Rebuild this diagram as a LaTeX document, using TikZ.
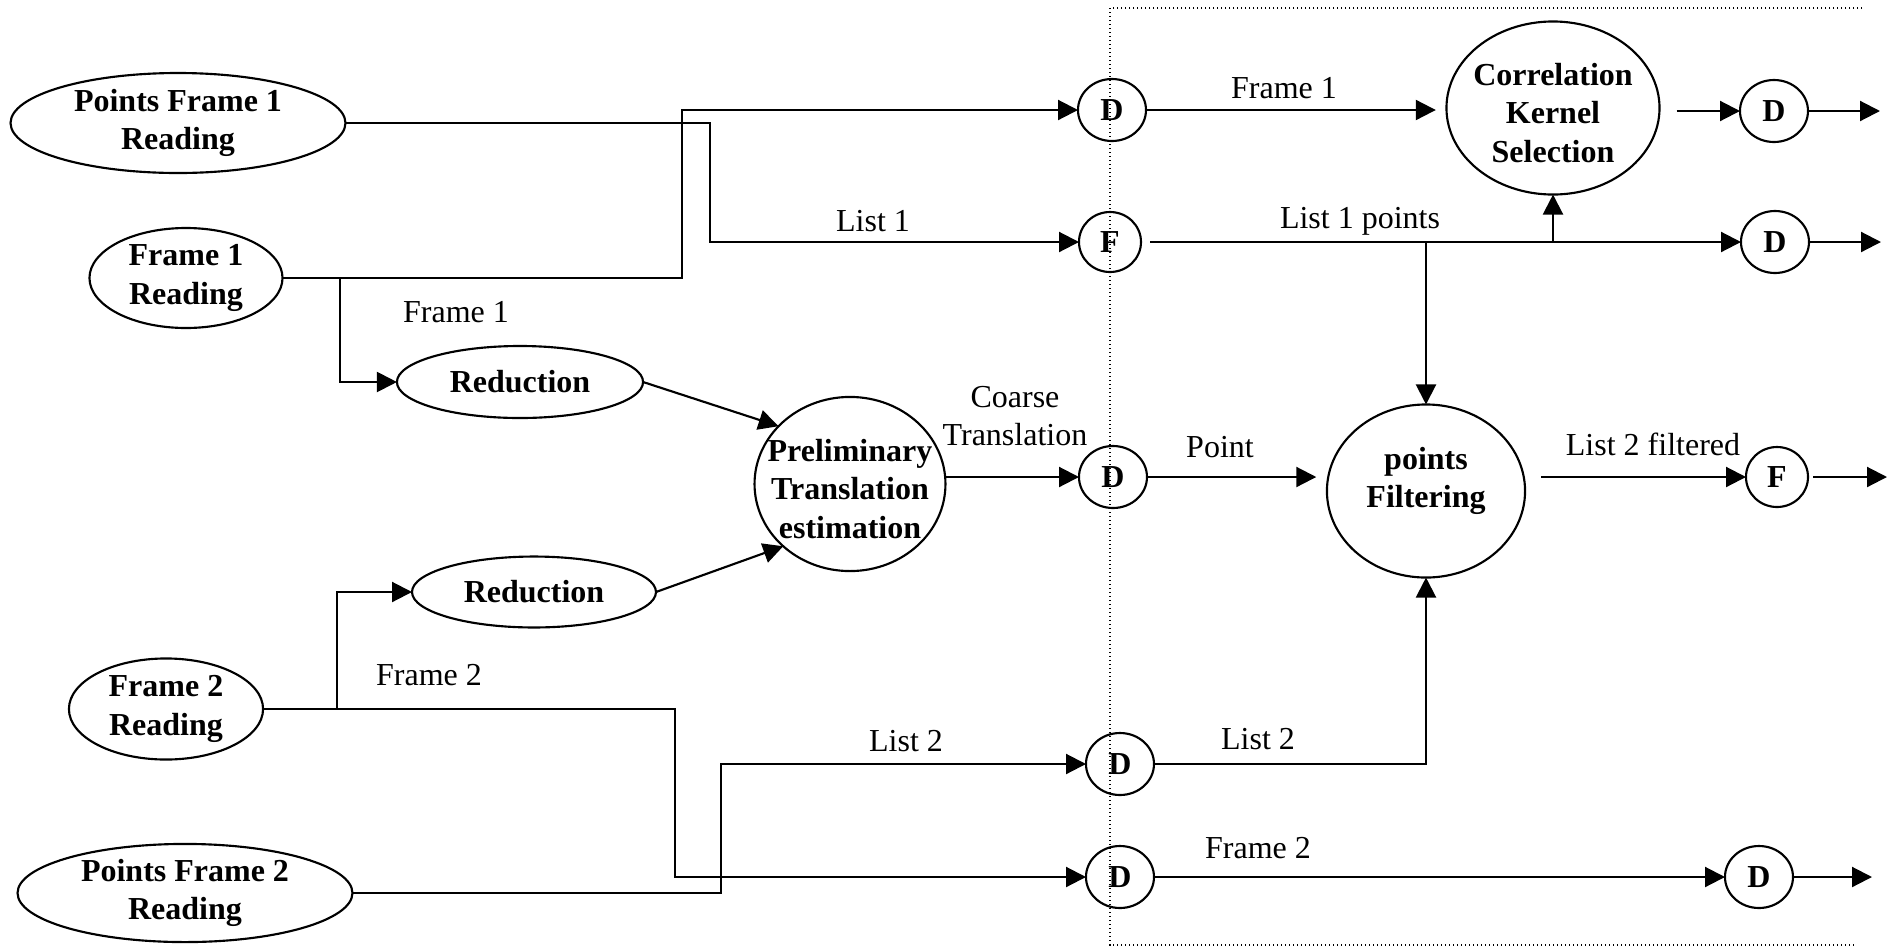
\documentclass[tikz,border=0pt]{standalone}
\usepackage{fontspec}
\setmainfont{Liberation Serif}
\usetikzlibrary{arrows.meta,shapes.geometric,calc}
\begin{document}
\begin{tikzpicture}[x=0.375pt,y=-0.375pt,
  every node/.style={inner sep=0pt, outer sep=0pt},
  shp/.style={draw, ellipse, line width=0.8pt},
  dnode/.style={shp, minimum width=25.5pt, minimum height=23.25pt, font=\fontsize{12}{14.4}\selectfont\bfseries},
  fnode/.style={shp, minimum width=23.25pt, minimum height=22.5pt, font=\fontsize{12}{14.4}\selectfont\bfseries},
  btxt/.style={align=center, font=\fontsize{12}{14.4}\selectfont\bfseries},
  lbl/.style={align=center, font=\fontsize{12}{14.4}\selectfont},
  conn/.style={line width=0.8pt},
  arr/.style={conn, -{Triangle[length=7.5pt,width=7.5pt]}},
  frame/.style={line width=0.4pt, dash pattern=on 0.5pt off 1pt}
]
\useasboundingbox (0,0) rectangle (1894,947);

% dotted boundary
\coordinate (fr1) at (1862,8);
\coordinate (fr2) at (1110,8);
\coordinate (fr3) at (1110,945);
\coordinate (fr4) at (1857,945);
\draw[frame] (fr1) -- (fr2) -- (fr3) -- (fr4);

% big shapes
\node[shp, minimum width=125.6pt, minimum height=37.5pt] (pf1) at (178,123) {};
\node[btxt] (pf1t) at (pf1) {Points Frame 1\\Reading};
\node[shp, minimum width=72.4pt, minimum height=37.5pt] (f1r) at (186,278) {};
\node[btxt] (f1rt) at (f1r) {Frame 1\\Reading};
\node[shp, minimum width=92.3pt, minimum height=27pt] (red1) at (520,382) {};
\node[btxt] (red1t) at (red1) {Reduction};
\node[shp, minimum width=91.5pt, minimum height=26.6pt] (red2) at (534,592) {};
\node[btxt] (red2t) at (red2) {Reduction};
\node[shp, minimum width=72.8pt, minimum height=37.9pt] (f2r) at (166,709) {};
\node[btxt] (f2rt) at (f2r) {Frame 2\\Reading};
\node[shp, minimum width=125.6pt, minimum height=36.8pt] (pf2) at (185,893) {};
\node[btxt] (pf2t) at (pf2) {Points Frame 2\\Reading};
\node[shp, minimum width=71.6pt, minimum height=65.3pt] (pre) at (850,484) {};
\node[btxt] (pret) at (850,489) {Preliminary\\Translation\\estimation};
\node[shp, minimum width=79.9pt, minimum height=64.9pt] (corr) at (1553,108) {};
\node[btxt] (corrt) at (1553,113) {Correlation\\Kernel\\Selection};
\node[shp, minimum width=74.3pt, minimum height=64.9pt] (pf) at (1426,491) {};
\node[btxt] (pft) at (1426,481) {points\\Filtering};

% small D / F nodes
\node[dnode] (D1) at (1112,110) {D};
\node[fnode] (F1) at (1110,242) {F};
\node[dnode] (D3) at (1113,477) {D};
\node[dnode] (D4) at (1120,764) {D};
\node[dnode] (D5) at (1120,877) {D};
\node[dnode] (dA) at (1774,111) {D};
\node[dnode] (dB) at (1775,242) {D};
\node[fnode] (F2) at (1777,477) {F};
\node[dnode] (D6) at (1759,877) {D};

% bend / junction coordinates
\coordinate (c1) at (710,123);
\coordinate (c2) at (682,278);
\coordinate (c3) at (340,278);
\coordinate (c4) at (675,709);
\coordinate (c5) at (337,709);
\coordinate (c6) at (721,893);
\coordinate (j1) at (1553,242);
\coordinate (j2) at (1426,242);
\coordinate (oA) at (1880,111);
\coordinate (oB) at (1881,242);
\coordinate (oC) at (1887,477);
\coordinate (oD) at (1872,877);

% connectors
\draw[arr] (pf1.east) -- (c1) |- (F1.west);
\draw[arr] (f1r.east) -- (c2) |- (D1.west);
\draw[arr] (c3) |- (red1.west);
\draw[arr] (red1.east) -- (pre.141);
\draw[arr] (red2.east) -- (pre.223);
\draw[arr] (f2r.east) -- (c4) |- (D5.west);
\draw[arr] (c5) |- (red2.west);
\draw[arr] (pf2.east) -- (c6) |- (D4.west);
\draw[arr] (pre.east |- D3.west) -- (D3.west);
\draw[arr, shorten >=4pt] (D1.east) -- (D1.east -| corr.west);
\draw[arr, shorten <=6.4pt] (corr.east |- dA.west) -- (dA.west);
\draw[arr] (dA.east) -- (oA);
\draw[arr, shorten <=3.4pt] (F1.east) -- (dB.west);
\draw[arr] (j1) -- (corr.south);
\draw[arr] (j2) -- (pf.north);
\draw[arr] (dB.east) -- (oB);
\draw[arr, shorten >=4pt] (D3.east) -- (D3.east -| pf.west);
\draw[arr, shorten <=6pt] (pf.east |- F2.west) -- (F2.west);
\draw[arr, shorten <=2pt] (F2.east) -- (oC);
\draw[arr] (D4.east) -| (pf.south);
\draw[arr] (D5.east) -- (D6.west);
\draw[arr] (D6.east) -- (oD);

% labels
\node[lbl] (l1) at (456,312) {Frame 1};
\node[lbl] (l2) at (1284,88) {Frame 1};
\node[lbl] (l3) at (873,221) {List 1};
\node[lbl] (l4) at (1360,221) {List 1 points};
\node[lbl] (l5) at (1015,416) {Coarse\\Translation};
\node[lbl] (l6) at (1220,447) {Point};
\node[lbl] (l7) at (1653,444) {List 2 filtered};
\node[lbl] (l8) at (429,675) {Frame 2};
\node[lbl] (l9) at (906,741) {List 2};
\node[lbl] (l10) at (1258,739) {List 2};
\node[lbl] (l11) at (1258,848) {Frame 2};
\end{tikzpicture}
\end{document}
